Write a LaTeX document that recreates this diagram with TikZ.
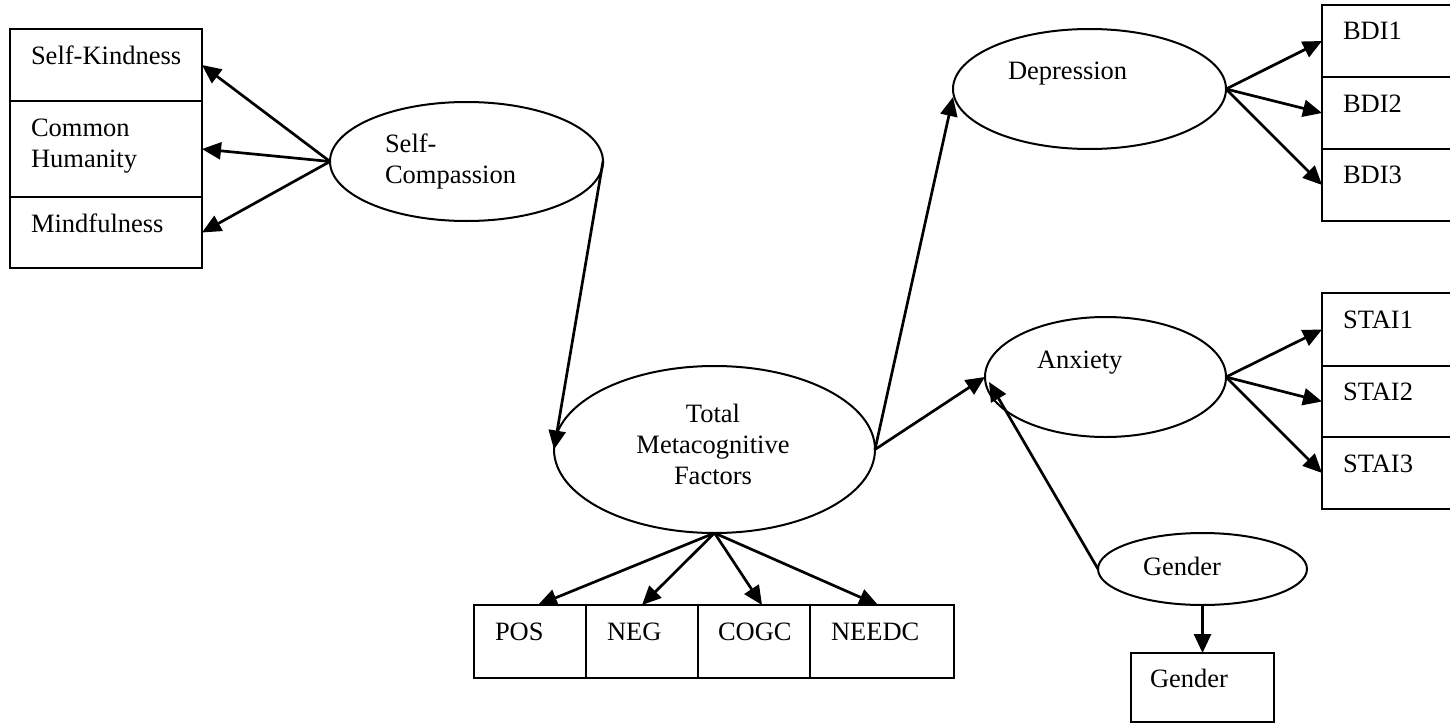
\documentclass[tikz,border=0pt]{standalone}
\usepackage{fontspec}
\setmainfont{Liberation Serif}
\usetikzlibrary{shapes.geometric,arrows.meta}
\begin{document}
\begin{tikzpicture}[x=1pt,y=-1pt,
  every node/.style={inner sep=0pt, outer sep=0pt},
  box/.style={draw, line width=2.2pt, rectangle, anchor=north west},
  latent/.style={draw, line width=2pt, ellipse},
  lbl/.style={anchor=base west, font=\fontsize{26.5pt}{31pt}\selectfont},
  clbl/.style={anchor=base, font=\fontsize{26.5pt}{31pt}\selectfont},
  link/.style={line width=2.7pt, -{Triangle[length=19pt,width=17pt]}}
]
\useasboundingbox (0,0) rectangle (1450,725);
\clip (0,0) rectangle (1450,725);

% Self-compassion indicators
\node[box, minimum width=192pt, minimum height=72pt] (sk) at (10,29) {};
\node[box, minimum width=192pt, minimum height=96pt] (ch) at (10,101) {};
\node[box, minimum width=192pt, minimum height=71pt] (mf) at (10,197) {};
\node[lbl] (skt) at (31,64) {Self-Kindness};
\node[lbl] (cht1) at (31,136) {Common};
\node[lbl] (cht2) at (31,167) {Humanity};
\node[lbl] (mft) at (31,232) {Mindfulness};

% Latent variables
\node[latent, minimum width=273pt, minimum height=119pt] (sc) at (466.5,161.5) {};
\node[lbl] (sct1) at (385,152) {Self-};
\node[lbl] (sct2) at (385,183) {Compassion};

\node[latent, minimum width=321pt, minimum height=167pt] (tm) at (714.5,449.5) {};
\node[clbl] (tmt1) at (713,422) {Total};
\node[clbl] (tmt2) at (713,453) {Metacognitive};
\node[clbl] (tmt3) at (713,484) {Factors};

\node[latent, minimum width=273pt, minimum height=120pt] (dep) at (1089.5,89) {};
\node[lbl] (dept) at (1008,79) {Depression};

\node[latent, minimum width=241pt, minimum height=120pt] (anx) at (1105.5,377) {};
\node[lbl] (anxt) at (1037,368) {Anxiety};

\node[latent, minimum width=209pt, minimum height=72pt] (gen) at (1202.5,569) {};
\node[lbl] (gent) at (1143,575) {Gender};

% Observed gender
\node[box, minimum width=143pt, minimum height=69pt] (gbox) at (1131,653) {};
\node[lbl] (gboxt) at (1150,687) {Gender};

% Depression indicators
\node[box, minimum width=140pt, minimum height=72pt] (b1) at (1322,5) {};
\node[box, minimum width=140pt, minimum height=72pt] (b2) at (1322,77) {};
\node[box, minimum width=140pt, minimum height=72pt] (b3) at (1322,149) {};
\node[lbl] (b1t) at (1343,40) {BDI1};
\node[lbl] (b2t) at (1343,112) {BDI2};
\node[lbl] (b3t) at (1343,183) {BDI3};

% Anxiety indicators
\node[box, minimum width=140pt, minimum height=73pt] (s1) at (1322,293) {};
\node[box, minimum width=140pt, minimum height=71pt] (s2) at (1322,366) {};
\node[box, minimum width=140pt, minimum height=72pt] (s3) at (1322,437) {};
\node[lbl] (s1t) at (1343,328) {STAI1};
\node[lbl] (s2t) at (1343,400) {STAI2};
\node[lbl] (s3t) at (1343,472) {STAI3};

% Metacognition indicators
\node[box, minimum width=112pt, minimum height=73pt] (pos) at (474,605) {};
\node[box, minimum width=112pt, minimum height=73pt] (neg) at (586,605) {};
\node[box, minimum width=112pt, minimum height=73pt] (cogc) at (698,605) {};
\node[box, minimum width=144pt, minimum height=73pt] (needc) at (810,605) {};
\node[lbl] (post) at (495,640) {POS};
\node[lbl] (negt) at (607,640) {NEG};
\node[lbl] (cogct) at (718,640) {COGC};
\node[lbl] (needct) at (831,640) {NEEDC};

% Paths
\draw[link] (sc.west) -- (sk.east);
\draw[link] (sc.west) -- (ch.east);
\draw[link] (sc.west) -- (mf.east);
\draw[link] (sc.east) -- (tm.west);
\draw[link] (tm.east) -- ([yshift=-8pt]dep.west);
\draw[link] (tm.east) -- (anx.west);
\draw[link] (gen.west) -- ([xshift=4pt,yshift=-5pt]anx.west);
\draw[link] (gen.south) -- (gbox.north);
\draw[link] (dep.east) -- (b1.west);
\draw[link] (dep.east) -- (b2.west);
\draw[link] (dep.east) -- (b3.west);
\draw[link] (anx.east) -- (s1.west);
\draw[link] (anx.east) -- (s2.west);
\draw[link] (anx.east) -- (s3.west);
\draw[link] (tm.south) -- ([xshift=8pt]pos.north);
\draw[link] (tm.south) -- (neg.north);
\draw[link] (tm.south) -- ([xshift=8pt]cogc.north);
\draw[link] (tm.south) -- ([xshift=-4pt]needc.north);
\end{tikzpicture}
\end{document}
